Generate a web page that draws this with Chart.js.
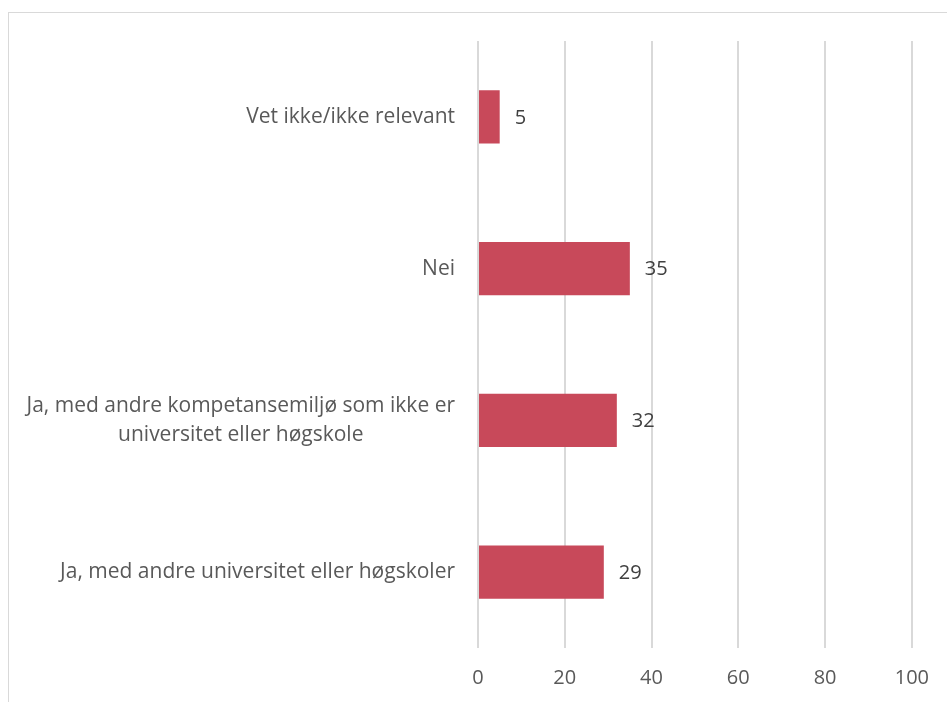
<!DOCTYPE html>
<html>
<head>
<meta charset="utf-8">
<script src="https://cdn.jsdelivr.net/npm/chart.js@4/dist/chart.umd.min.js"></script>
<style>
  html, body { margin: 0; padding: 0; background: #fff; }
  #wrap { position: relative; width: 947px; height: 702px; }
  #frame { position: absolute; left: 8px; top: 12px; right: 0; bottom: 0; border-top: 1px solid #d9d9d9; border-left: 1px solid #d9d9d9; }
  canvas { position: absolute; left: 0; top: 0; }
</style>
</head>
<body>
<div id="wrap">
  <div id="frame"></div>
  <canvas id="c" width="947" height="702"></canvas>
</div>
<script>
const categories = [
  "Vet ikke/ikke relevant",
  "Nei",
  ["Ja, med andre kompetansemiljø som ikke er", "universitet eller høgskole"],
  "Ja, med andre universitet eller høgskoler"
];
const values = [5, 35, 32, 29];
const xTicks = [0, 20, 40, 60, 80, 100];

const FONT = "'Open Sans', Lato, sans-serif";

const valueLabels = {
  id: 'valueLabels',
  afterDatasetsDraw(chart) {
    const ctx = chart.ctx;
    const meta = chart.getDatasetMeta(0);
    ctx.save();
    ctx.font = "20px " + FONT;
    ctx.fillStyle = "#404040";
    ctx.textAlign = "left";
    ctx.textBaseline = "middle";
    meta.data.forEach((bar, i) => {
      ctx.fillText(String(values[i]), bar.x + 15, bar.y + 1);
    });
    ctx.restore();
  }
};

// Category labels: block right-aligned to the axis, lines centered inside the block
const categoryLabels = {
  id: 'categoryLabels',
  afterDraw(chart) {
    const ctx = chart.ctx;
    const scale = chart.scales.y;
    const lineH = 28.35;
    ctx.save();
    ctx.font = "21px " + FONT;
    ctx.fillStyle = "#595959";
    ctx.textAlign = "center";
    ctx.textBaseline = "middle";
    const rightEdge = scale.right - 23;
    categories.forEach((lab, i) => {
      const lines = Array.isArray(lab) ? lab : [lab];
      const w = Math.max(...lines.map(l => ctx.measureText(l).width));
      const cx = rightEdge - w / 2;
      const cy = scale.getPixelForTick(i);
      const y0 = cy - (lines.length - 1) * lineH / 2;
      lines.forEach((l, j) => ctx.fillText(l, cx, y0 + j * lineH));
    });
    ctx.restore();
  }
};

new Chart(document.getElementById('c'), {
  type: 'bar',
  data: {
    labels: categories,
    datasets: [{
      data: values,
      backgroundColor: '#c8495a',
      borderWidth: 0,
      categoryPercentage: 1,
      barPercentage: 0.35
    }]
  },
  options: {
    indexAxis: 'y',
    responsive: false,
    animation: false,
    layout: { padding: { top: 41, right: 35, left: 0, bottom: 0 } },
    plugins: { legend: { display: false }, tooltip: { enabled: false } },
    scales: {
      x: {
        min: 0, max: 100,
        afterBuildTicks(axis) { axis.ticks = xTicks.map(v => ({ value: v })); },
        afterFit(axis) { axis.height = 702 - 648; },
        grid: { color: '#d9d9d9', lineWidth: 2, drawTicks: false },
        border: { display: false },
        ticks: { color: '#595959', font: { family: FONT, size: 20 }, padding: 18 }
      },
      y: {
        afterFit(axis) { axis.width = 478; },
        grid: { display: false, drawTicks: false },
        border: { display: false },
        ticks: { display: false }
      }
    }
  },
  plugins: [valueLabels, categoryLabels]
});
</script>
</body>
</html>
